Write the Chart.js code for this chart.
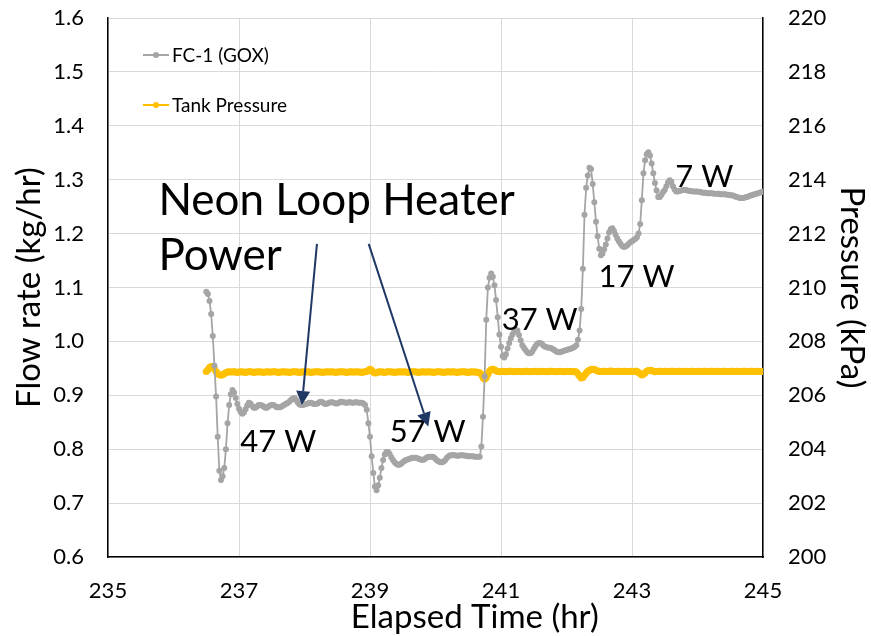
<!DOCTYPE html>
<html>
<head>
<meta charset="utf-8">
<script src="https://cdn.jsdelivr.net/npm/chart.js@4.4.1/dist/chart.umd.min.js"></script>
<style>
  body { margin: 0; background: #fff; }
  #wrap { width: 871px; height: 636px; }
</style>
</head>
<body>
<div id="wrap"><canvas id="flowChart" width="871" height="636"></canvas></div>
<script>
// sampling grid (hr)
const timeStart = 236.5;
const timeStep = 0.025;

// FC-1 (GOX) flow rate, kg/hr
const flowRate = [
  1.092, 1.088, 1.075, 1.051, 1.010, 0.955, 0.898, 0.823, 0.760, 0.743,
  0.750, 0.765, 0.800, 0.848, 0.882, 0.902, 0.910, 0.905, 0.895, 0.884,
  0.875, 0.869, 0.866, 0.868, 0.874, 0.881, 0.886, 0.885, 0.880, 0.877,
  0.877, 0.879, 0.882, 0.882, 0.881, 0.879, 0.877, 0.877, 0.879, 0.881,
  0.882, 0.882, 0.880, 0.878, 0.878, 0.878, 0.879, 0.881, 0.883, 0.885,
  0.886, 0.889, 0.892, 0.894, 0.895, 0.891, 0.886, 0.883, 0.882, 0.882,
  0.883, 0.884, 0.885, 0.886, 0.886, 0.885, 0.884, 0.884, 0.885, 0.887,
  0.888, 0.887, 0.885, 0.884, 0.885, 0.886, 0.887, 0.887, 0.886, 0.885,
  0.885, 0.886, 0.888, 0.888, 0.887, 0.886, 0.886, 0.887, 0.887, 0.886,
  0.886, 0.887, 0.887, 0.886, 0.886, 0.886, 0.885, 0.882, 0.873, 0.848,
  0.823, 0.787, 0.756, 0.731, 0.724, 0.733, 0.747, 0.765, 0.780, 0.790,
  0.795, 0.795, 0.791, 0.785, 0.780, 0.776, 0.773, 0.771, 0.771, 0.773,
  0.776, 0.778, 0.780, 0.781, 0.782, 0.783, 0.784, 0.784, 0.784, 0.783,
  0.782, 0.781, 0.780, 0.781, 0.783, 0.785, 0.786, 0.786, 0.786, 0.785,
  0.782, 0.779, 0.777, 0.776, 0.776, 0.777, 0.780, 0.784, 0.787, 0.789,
  0.789, 0.789, 0.789, 0.788, 0.788, 0.789, 0.789, 0.789, 0.788, 0.788,
  0.787, 0.787, 0.787, 0.787, 0.786, 0.786, 0.786, 0.786, 0.805, 0.860,
  0.935, 1.040, 1.100, 1.118, 1.126, 1.120, 1.104, 1.077, 1.045, 1.013,
  0.990, 0.973, 0.970, 0.976, 0.987, 0.997, 1.006, 1.013, 1.018, 1.021,
  1.020, 1.012, 1.002, 0.993, 0.988, 0.984, 0.980, 0.978, 0.978, 0.981,
  0.986, 0.991, 0.995, 0.997, 0.997, 0.995, 0.992, 0.990, 0.989, 0.988,
  0.988, 0.987, 0.985, 0.983, 0.981, 0.980, 0.980, 0.981, 0.982, 0.983,
  0.984, 0.985, 0.986, 0.987, 0.988, 0.990, 0.993, 1.003, 1.020, 1.060,
  1.135, 1.235, 1.285, 1.308, 1.322, 1.320, 1.292, 1.258, 1.222, 1.195,
  1.172, 1.160, 1.163, 1.171, 1.180, 1.191, 1.202, 1.208, 1.210, 1.205,
  1.198, 1.191, 1.186, 1.181, 1.177, 1.175, 1.176, 1.178, 1.181, 1.184,
  1.186, 1.188, 1.190, 1.193, 1.200, 1.218, 1.262, 1.312, 1.336, 1.347,
  1.351, 1.345, 1.330, 1.312, 1.294, 1.280, 1.268, 1.268, 1.272, 1.277,
  1.281, 1.288, 1.295, 1.299, 1.296, 1.288, 1.282, 1.278, 1.278, 1.279,
  1.280, 1.281, 1.281, 1.281, 1.280, 1.279, 1.279, 1.278, 1.278, 1.278,
  1.278, 1.277, 1.277, 1.276, 1.276, 1.276, 1.275, 1.275, 1.275, 1.275,
  1.274, 1.274, 1.274, 1.274, 1.273, 1.273, 1.273, 1.273, 1.272, 1.272,
  1.271, 1.271, 1.270, 1.269, 1.268, 1.267, 1.266, 1.266, 1.266, 1.267,
  1.268, 1.269, 1.270, 1.271, 1.272, 1.273, 1.274, 1.275, 1.276, 1.277,
  1.278
];

// tank pressure, kPa
const tankPressure = [
  206.88, 206.95, 207.03, 207.07, 207.06, 206.98, 206.88, 206.80, 206.76, 206.74,
  206.76, 206.80, 206.84, 206.86, 206.87, 206.86, 206.86, 206.87, 206.86, 206.85,
  206.86, 206.87, 206.86, 206.86, 206.85, 206.86, 206.87, 206.87, 206.86, 206.85,
  206.86, 206.86, 206.87, 206.86, 206.86, 206.85, 206.86, 206.87, 206.86, 206.86,
  206.86, 206.87, 206.87, 206.86, 206.85, 206.86, 206.86, 206.87, 206.86, 206.86,
  206.86, 206.85, 206.86, 206.87, 206.87, 206.86, 206.86, 206.85, 206.86, 206.87,
  206.86, 206.86, 206.87, 206.86, 206.85, 206.86, 206.86, 206.87, 206.87, 206.86,
  206.86, 206.85, 206.86, 206.86, 206.87, 206.86, 206.86, 206.87, 206.86, 206.85,
  206.86, 206.86, 206.87, 206.87, 206.86, 206.86, 206.85, 206.86, 206.87, 206.86,
  206.86, 206.86, 206.87, 206.86, 206.86, 206.85, 206.86, 206.87, 206.88, 206.93,
  206.97, 206.93, 206.86, 206.83, 206.84, 206.86, 206.87, 206.86, 206.86, 206.85,
  206.86, 206.87, 206.87, 206.86, 206.86, 206.85, 206.86, 206.86, 206.87, 206.86,
  206.86, 206.87, 206.86, 206.85, 206.86, 206.86, 206.87, 206.87, 206.86, 206.86,
  206.85, 206.86, 206.87, 206.86, 206.86, 206.86, 206.87, 206.86, 206.86, 206.85,
  206.86, 206.87, 206.87, 206.86, 206.86, 206.85, 206.86, 206.86, 206.87, 206.86,
  206.86, 206.87, 206.86, 206.85, 206.86, 206.86, 206.87, 206.87, 206.86, 206.86,
  206.85, 206.86, 206.87, 206.86, 206.86, 206.86, 206.85, 206.84, 206.78, 206.65,
  206.60, 206.66, 206.78, 206.90, 206.96, 206.97, 206.95, 206.91, 206.88, 206.87,
  206.88, 206.89, 206.88, 206.87, 206.88, 206.89, 206.89, 206.88, 206.87, 206.88,
  206.89, 206.88, 206.88, 206.87, 206.88, 206.89, 206.89, 206.88, 206.87, 206.88,
  206.88, 206.89, 206.88, 206.87, 206.88, 206.89, 206.88, 206.88, 206.87, 206.88,
  206.89, 206.89, 206.88, 206.87, 206.88, 206.88, 206.89, 206.88, 206.87, 206.88,
  206.88, 206.89, 206.88, 206.88, 206.87, 206.88, 206.86, 206.80, 206.72, 206.64,
  206.66, 206.74, 206.83, 206.89, 206.93, 206.96, 206.97, 206.96, 206.93, 206.90,
  206.88, 206.88, 206.89, 206.89, 206.88, 206.88, 206.89, 206.90, 206.89, 206.88,
  206.88, 206.89, 206.89, 206.88, 206.88, 206.89, 206.89, 206.88, 206.88, 206.89,
  206.88, 206.88, 206.89, 206.89, 206.85, 206.80, 206.75, 206.78, 206.84, 206.89,
  206.92, 206.93, 206.92, 206.89, 206.87, 206.88, 206.89, 206.89, 206.88, 206.88,
  206.89, 206.89, 206.88, 206.88, 206.89, 206.89, 206.88, 206.88, 206.89, 206.89,
  206.88, 206.88, 206.89, 206.89, 206.88, 206.88, 206.89, 206.89, 206.88, 206.88,
  206.89, 206.89, 206.88, 206.88, 206.89, 206.89, 206.88, 206.88, 206.89, 206.89,
  206.88, 206.88, 206.89, 206.89, 206.88, 206.88, 206.89, 206.89, 206.88, 206.88,
  206.89, 206.89, 206.88, 206.88, 206.89, 206.89, 206.88, 206.88, 206.89, 206.89,
  206.88, 206.88, 206.89, 206.89, 206.88, 206.88, 206.89, 206.89, 206.88, 206.88,
  206.89
];

// heater power call-outs: text, time (hr) and flow (kg/hr) of the text baseline
const powerLabels = ['47 W', '57 W', '37 W', '17 W', '7 W'];
const powerLabelTimes = [237.02, 239.30, 241.01, 242.49, 243.66];
const powerLabelFlows = [0.795, 0.814, 1.021, 1.101, 1.287];

// arrows from the heading down to the 47 W and 57 W plateaus
const arrowFrom = [[238.19, 1.181], [238.98, 1.181]];
const arrowTo = [[237.96, 0.882], [239.89, 0.842]];

const FONT = 'Lato, "Open Sans", sans-serif';
const GRAY = '#A5A5A5';
const GOLD = '#FFC000';
const NAVY = '#1F3864';
const TITLE_SIZE = 33;

const times = flowRate.map((_, i) => +(timeStart + i * timeStep).toFixed(3));

// y axes: no extra room for half tick labels, the plot box is fixed
const fixY = s => { s.width = 108; s.paddingTop = 0; s.paddingBottom = 0; };

const notesPlugin = {
  id: 'notes',
  afterDatasetsDraw(chart) {
    const { ctx, scales: { x, y } } = chart;
    ctx.save();
    ctx.fillStyle = '#000';
    ctx.textBaseline = 'alphabetic';
    ctx.textAlign = 'left';

    ctx.font = '44px ' + FONT;
    ctx.fillText('Neon Loop Heater', x.getPixelForValue(235.77), y.getPixelForValue(1.2345));
    ctx.fillText('Power', x.getPixelForValue(235.77), y.getPixelForValue(1.1325));

    ctx.font = '31px ' + FONT;
    powerLabels.forEach((txt, i) => {
      ctx.fillText(txt, x.getPixelForValue(powerLabelTimes[i]), y.getPixelForValue(powerLabelFlows[i]));
    });

    ctx.strokeStyle = NAVY;
    ctx.fillStyle = NAVY;
    ctx.lineWidth = 2;
    arrowFrom.forEach((from, i) => {
      const x0 = x.getPixelForValue(from[0]), y0 = y.getPixelForValue(from[1]);
      const x1 = x.getPixelForValue(arrowTo[i][0]), y1 = y.getPixelForValue(arrowTo[i][1]);
      const ang = Math.atan2(y1 - y0, x1 - x0);
      const headLen = 14, headHalf = 7;
      const bx = x1 - headLen * Math.cos(ang), by = y1 - headLen * Math.sin(ang);
      ctx.beginPath();
      ctx.moveTo(x0, y0);
      ctx.lineTo(bx, by);
      ctx.stroke();
      ctx.beginPath();
      ctx.moveTo(x1, y1);
      ctx.lineTo(bx + headHalf * Math.sin(ang), by - headHalf * Math.cos(ang));
      ctx.lineTo(bx - headHalf * Math.sin(ang), by + headHalf * Math.cos(ang));
      ctx.closePath();
      ctx.fill();
    });
    ctx.restore();
  },
  afterDraw(chart) {
    const { ctx, chartArea, scales: { x } } = chart;
    ctx.save();

    // x axis title sits a little right of the plot centre
    ctx.font = TITLE_SIZE + 'px ' + FONT;
    ctx.fillStyle = '#000';
    ctx.textAlign = 'center';
    ctx.textBaseline = 'middle';
    ctx.fillText('Elapsed Time (hr)', x.getPixelForValue(240.6), x.bottom - 19);

    // legend sits inside the plot, upper left
    ctx.font = '19px ' + FONT;
    ctx.textAlign = 'left';
    chart.data.datasets.forEach((ds, i) => {
      const lx = chartArea.left + 35;
      const ly = chartArea.top + 37 + i * 50;
      ctx.strokeStyle = ds.borderColor;
      ctx.lineWidth = 2;
      ctx.beginPath();
      ctx.moveTo(lx, ly);
      ctx.lineTo(lx + 26, ly);
      ctx.stroke();
      ctx.fillStyle = ds.borderColor;
      ctx.beginPath();
      ctx.arc(lx + 13, ly, 3, 0, Math.PI * 2);
      ctx.fill();
      ctx.fillStyle = '#000';
      ctx.fillText(ds.label, lx + 29, ly + 1);
    });
    ctx.restore();
  }
};

new Chart(document.getElementById('flowChart'), {
  type: 'line',
  data: {
    datasets: [
      {
        label: 'FC-1 (GOX)',
        data: times.map((t, i) => ({ x: t, y: flowRate[i] })),
        yAxisID: 'y',
        borderColor: GRAY,
        backgroundColor: GRAY,
        borderWidth: 1.8,
        pointRadius: 3,
        pointBorderWidth: 0,
        pointBackgroundColor: GRAY,
        tension: 0
      },
      {
        label: 'Tank Pressure',
        data: times.map((t, i) => ({ x: t, y: tankPressure[i] })),
        yAxisID: 'y2',
        borderColor: GOLD,
        backgroundColor: GOLD,
        borderWidth: 3,
        pointRadius: 3.5,
        pointBorderWidth: 0,
        pointBackgroundColor: GOLD,
        tension: 0
      }
    ]
  },
  options: {
    responsive: false,
    animation: false,
    events: [],
    layout: { padding: { top: 18, left: 0, right: 0, bottom: 0 } },
    plugins: {
      legend: { display: false },
      tooltip: { enabled: false }
    },
    scales: {
      x: {
        type: 'linear',
        min: 235,
        max: 245,
        afterFit: s => { s.height = 79; },
        ticks: {
          stepSize: 2,
          padding: 21,
          color: '#000',
          font: { family: FONT, size: 22 }
        },
        grid: { color: '#D9D9D9', lineWidth: 1, drawTicks: false },
        border: { color: '#000', width: 1.5 }
      },
      y: {
        position: 'left',
        min: 0.6,
        max: 1.6,
        afterFit: fixY,
        ticks: {
          stepSize: 0.1,
          padding: 24,
          color: '#000',
          font: { family: FONT, size: 22 },
          callback: v => v.toFixed(1)
        },
        grid: { color: '#D9D9D9', lineWidth: 1, drawTicks: false },
        border: { color: '#000', width: 1.5 },
        title: {
          display: true,
          text: 'Flow rate (kg/hr)',
          color: '#000',
          font: { family: FONT, size: TITLE_SIZE },
          padding: { top: 10, bottom: 0 }
        }
      },
      y2: {
        position: 'right',
        min: 200,
        max: 220,
        afterFit: fixY,
        ticks: {
          stepSize: 2,
          padding: 25,
          color: '#000',
          font: { family: FONT, size: 22 }
        },
        grid: { drawOnChartArea: false, drawTicks: false },
        border: { color: '#000', width: 1.5 },
        title: {
          display: true,
          text: 'Pressure (kPa)',
          color: '#000',
          font: { family: FONT, size: TITLE_SIZE },
          padding: { top: 0, bottom: 0 }
        }
      }
    }
  },
  plugins: [notesPlugin]
});
</script>
</body>
</html>
